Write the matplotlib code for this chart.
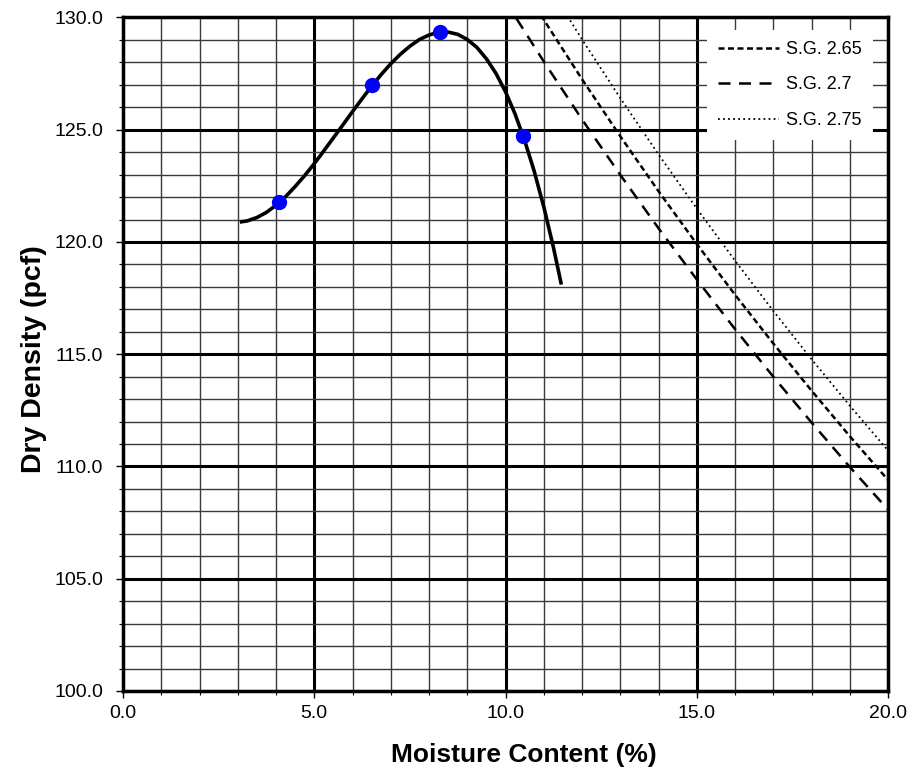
import matplotlib
matplotlib.use("Agg")
import matplotlib.pyplot as plt
from matplotlib.ticker import MultipleLocator, FormatStrFormatter

plt.rcParams["font.family"] = ["Liberation Sans", "DejaVu Sans"]

# compaction test points
moisture = [4.09, 6.52, 8.30, 10.46]
dry_density = [121.77, 126.98, 129.35, 124.72]

# fitted compaction curve
curve_w = [3.1, 3.25, 3.5, 3.75, 4.0, 4.25, 4.5, 4.75, 5.0, 5.25, 5.5, 5.75,
           6.0, 6.25, 6.5, 6.75, 7.0, 7.25, 7.5, 7.75, 8.0, 8.25, 8.5, 8.75,
           9.0, 9.25, 9.5, 9.75, 10.0, 10.25, 10.5, 10.75, 11.0, 11.25, 11.45]
curve_d = [120.90, 120.94, 121.09, 121.32, 121.64, 122.02, 122.47, 122.96,
           123.49, 124.06, 124.64, 125.22, 125.81, 126.38, 126.94, 127.46,
           127.94, 128.36, 128.72, 129.02, 129.22, 129.34, 129.35, 129.25,
           129.02, 128.67, 128.16, 127.51, 126.69, 125.70, 124.52, 123.15,
           121.57, 119.78, 118.18]

# zero air voids lines
zav_w = [10, 11, 12, 13, 14, 15, 16, 17, 18, 19, 20]
zav_265 = [132.66, 129.90, 127.25, 124.71, 122.26, 119.91, 117.65, 115.48,
           113.38, 111.35, 109.40]
zav_27 = [130.72, 128.04, 125.46, 122.99, 120.61, 118.33, 116.12, 114.00,
          111.96, 109.98, 108.08]
zav_275 = [134.56, 131.75, 129.02, 126.41, 123.90, 121.49, 119.17, 116.93,
           114.78, 112.71, 110.71]

fig = plt.figure(figsize=(9.12, 7.70), dpi=100)
ax = fig.add_axes([0.1349, 0.1026, 0.8388, 0.8747])

ax.set_xlim(0, 20)
ax.set_ylim(100, 130)
ax.xaxis.set_major_locator(MultipleLocator(5))
ax.xaxis.set_minor_locator(MultipleLocator(1))
ax.yaxis.set_major_locator(MultipleLocator(5))
ax.yaxis.set_minor_locator(MultipleLocator(1))
ax.xaxis.set_major_formatter(FormatStrFormatter("%.1f"))
ax.yaxis.set_major_formatter(FormatStrFormatter("%.1f"))

ax.grid(which="major", color="black", lw=2.2, zorder=1)
ax.grid(which="minor", color="#3a3a3a", lw=1.0, zorder=1)
ax.set_axisbelow(True)
for s in ax.spines.values():
    s.set_linewidth(2.5)

ax.tick_params(axis="y", which="major", direction="out", length=5,
               width=1.0, labelsize=14, pad=9.5)
ax.tick_params(axis="x", which="major", direction="out", length=5,
               width=1.0, labelsize=14, pad=5)
ax.tick_params(which="minor", direction="out", length=3, width=0.8)

ax.plot(zav_w, zav_265, color="black", lw=1.8, ls=(0, (2.4, 1.4)),
        label="S.G. 2.65", zorder=3)
ax.plot(zav_w, zav_27, color="black", lw=1.8, ls=(0, (4.8, 3.4)),
        label="S.G. 2.7", zorder=3)
ax.plot(zav_w, zav_275, color="black", lw=1.3, ls=(0, (1, 1.8)),
        label="S.G. 2.75", zorder=3)

ax.plot(curve_w, curve_d, color="black", lw=2.6, zorder=4)
ax.plot(moisture, dry_density, "o", color="#0000ff", ms=10, zorder=5)

leg = ax.legend(loc="upper right", bbox_to_anchor=(0.9804, 0.9814),
                borderaxespad=0, fontsize=13, frameon=True, fancybox=False,
                framealpha=1, edgecolor="white", handlelength=3.4,
                handletextpad=0.4, labelspacing=1.03, borderpad=0.6)
leg.get_frame().set_linewidth(0)
leg.set_zorder(6)

ax.set_xlabel("Moisture Content (%)", fontsize=19, fontweight="bold")
ax.set_ylabel("Dry Density (pcf)", fontsize=20.5, fontweight="bold")
ax.xaxis.set_label_coords(0.524, -0.0775)
ax.yaxis.set_label_coords(-0.099, 0.493)

fig.savefig("out.png", dpi=100)
